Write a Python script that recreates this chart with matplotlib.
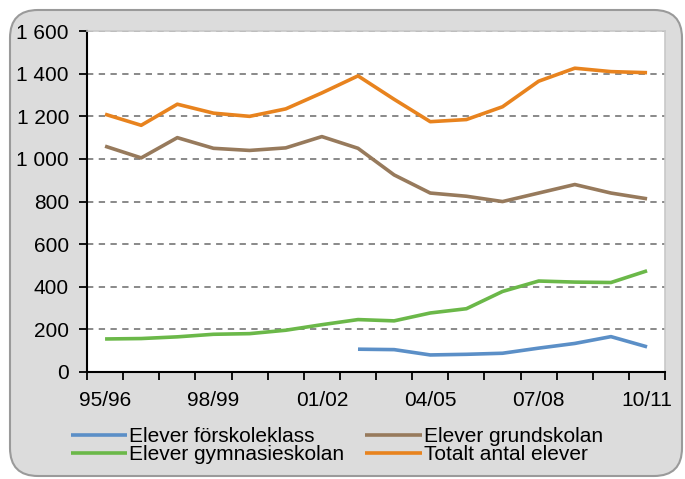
import numpy as np
import matplotlib
matplotlib.use('Agg')
import matplotlib.pyplot as plt
from matplotlib.patches import FancyBboxPatch
from matplotlib.ticker import FuncFormatter

seasons = ['95/96', '96/97', '97/98', '98/99', '99/00', '00/01', '01/02', '02/03',
           '03/04', '04/05', '05/06', '06/07', '07/08', '08/09', '09/10', '10/11']
tick_labels = ['95/96', '98/99', '01/02', '04/05', '07/08', '10/11']

forskoleklass = [np.nan] * 7 + [107, 105, 80, 83, 88, 112, 134, 166, 118]
grundskolan = [1060, 1005, 1100, 1050, 1040, 1052, 1105, 1050,
               925, 840, 825, 800, 840, 880, 840, 813]
gymnasieskolan = [155, 157, 165, 177, 180, 196, 222, 246,
                  240, 277, 297, 378, 427, 422, 420, 475]
totalt = [1210, 1158, 1257, 1215, 1200, 1235, 1310, 1390,
          1280, 1175, 1185, 1245, 1365, 1426, 1410, 1405]

names = ['Elever förskoleklass', 'Elever gymnasieskolan',
         'Elever grundskolan', 'Totalt antal elever']
colors = ['#5b8fc7', '#6bb849', '#977a5c', '#e8831e']

plt.rcParams['font.family'] = ['Liberation Sans', 'DejaVu Sans']

fig = plt.figure(figsize=(6.85, 4.79), dpi=100)
fig.patch.set_facecolor('white')

# grey rounded frame behind everything
frame = FancyBboxPatch((0.10, 0.03), 6.72, 4.66,
                       boxstyle='round,pad=0,rounding_size=0.28',
                       transform=fig.dpi_scale_trans, zorder=-10,
                       facecolor='#dcdcdc', edgecolor='#9a9a9a', linewidth=1.5)
fig.patches.append(frame)

ax = fig.add_axes([0.127, 0.2234, 0.844, 0.7116])
ax.set_facecolor('white')

x = np.arange(len(seasons))
series = [forskoleklass, gymnasieskolan, grundskolan, totalt]
for vals, name, col in zip(series, names, colors):
    ax.plot(x, vals, color=col, lw=2.6, label=name, solid_capstyle='butt')

ax.set_xlim(-0.5, len(seasons) - 0.5)
ax.set_ylim(0, 1600)
ax.set_yticks(np.arange(0, 1601, 200))
ax.yaxis.set_major_formatter(FuncFormatter(lambda v, p: '{:,}'.format(int(v)).replace(',', ' ')))
for yv in np.arange(200, 1601, 200):
    ax.axhline(yv, color='#808080', lw=1.3, ls=(0, (3.5, 3)), zorder=0)

ax.set_xticks([0, 3, 6, 9, 12, 15])
ax.set_xticklabels(tick_labels)
ax.set_xticks(np.arange(-0.5, len(seasons), 1), minor=True)
ax.tick_params(axis='x', which='major', length=0, pad=14, labelsize=15)
ax.tick_params(axis='x', which='minor', length=6, width=1.3, direction='out')
ax.tick_params(axis='y', length=6, width=1.3, pad=7, labelsize=15)

for side in ['left', 'bottom']:
    ax.spines[side].set_linewidth(1.5)
    ax.spines[side].set_color('black')
for side in ['top', 'right']:
    ax.spines[side].set_color('#c8c8c8')
    ax.spines[side].set_linewidth(1.2)

ax.legend(loc='upper left', bbox_to_anchor=(0.103, 0.108), bbox_transform=fig.transFigure,
          ncol=2, frameon=False, fontsize=15, handlelength=2.7, handletextpad=0.12,
          columnspacing=1.0, labelspacing=-0.05, borderpad=0, borderaxespad=0)

fig.savefig('out.png', dpi=100)
